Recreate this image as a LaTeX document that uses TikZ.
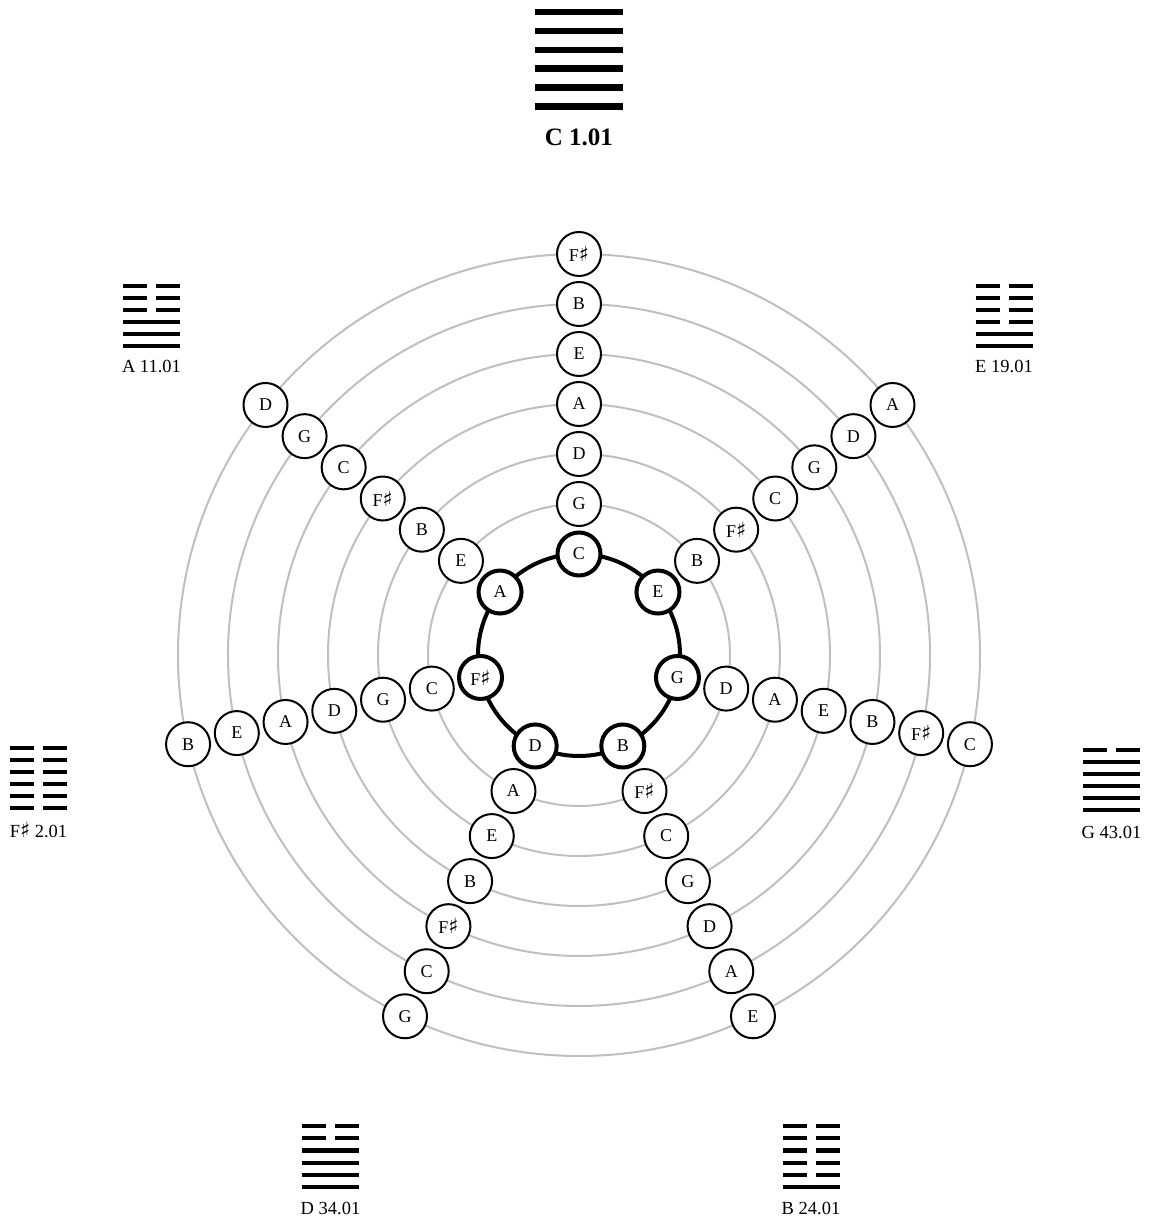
\documentclass[tikz,border=0pt]{standalone}
\usepackage{fontspec}
\setmainfont{Liberation Serif}
\newfontfamily\symfont{DejaVu Serif}
\newcommand\shp{{\symfont\fontsize{21}{21}\selectfont ♯}}
\begin{document}
\begin{tikzpicture}[x=1pt,y=1pt,
  note/.style={circle,draw=black,fill=white,line width=2pt,minimum size=44pt,inner sep=0pt,font=\fontsize{18}{20}\selectfont},
  keynote/.style={note,line width=4pt,minimum size=43pt},
  ring/.style={draw=black!25,line width=2pt},
  mainring/.style={draw=black,line width=4pt},
  smallhex/.style={line width=4.2pt},
  bighex/.style={line width=6.5pt},
  hexlab/.style={inner sep=0pt,font=\fontsize{18.5}{20}\selectfont},
  biglab/.style={inner sep=0pt,font=\fontsize{25}{28}\selectfont\bfseries},
]
\useasboundingbox (-579,655) rectangle (573,-565);

% hexagram helper: #1 x, #2 ytop, #3 half width, #4 spacing, #5 half gap, #6 pattern (top to bottom, 1 = solid), #7 style
\newcommand\hexagram[7]{%
  \foreach \s [count=\j from 0] in {#6} {
    \pgfmathsetmacro\yy{#2-#4*\j}
    \ifnum\s=1
      \draw[#7] (#1-#3,\yy) -- (#1+#3,\yy);
    \else
      \draw[#7] (#1-#3,\yy) -- (#1-#5,\yy) (#1+#5,\yy) -- (#1+#3,\yy);
    \fi
  }}

% rings
\foreach \r in {151,201,251,301,351,401} \draw[ring] (0,0) circle (\r);
\draw[mainring] (0,0) circle (101);

% spokes with key nodes
\foreach \i/\k/\lst in {
  0/C/{G,D,A,E,B,F\shp},
  1/E/{B,F\shp,C,G,D,A},
  2/G/{D,A,E,B,F\shp,C},
  3/B/{F\shp,C,G,D,A,E},
  4/D/{A,E,B,F\shp,C,G},
  5/F\shp/{C,G,D,A,E,B},
  6/A/{E,B,F\shp,C,G,D}} {
  \pgfmathsetmacro\ang{90-\i*360/7}
  \node[keynote] (k\i) at (\ang:101) {\k};
  \foreach \n [count=\j] in \lst {
    \node[note] (s\i-\j) at (\ang:{101+50*\j}) {\n};
  }
}

% hexagrams
\hexagram{0}{643}{44}{18.9}{5}{1,1,1,1,1,1}{bighex}
\node[biglab] (lC) at (0,518) {C 1.01};

\hexagram{-427.5}{369}{28.5}{12}{4.5}{0,0,0,1,1,1}{smallhex}
\node[hexlab] (lA) at (-427.5,289) {A 11.01};

\hexagram{425}{369}{28.5}{12}{4.5}{0,0,0,0,1,1}{smallhex}
\node[hexlab] (lE) at (425,289) {E 19.01};

\hexagram{532.5}{-95}{28.5}{12}{4.5}{0,1,1,1,1,1}{smallhex}
\node[hexlab] (lG) at (532.5,-177) {G 43.01};

\hexagram{-540.5}{-93}{28.5}{12}{4.5}{0,0,0,0,0,0}{smallhex}
\node[hexlab] (lF) at (-540.5,-175) {F\shp\ 2.01};

\hexagram{-248.5}{-471}{28.5}{12.2}{4.5}{0,0,1,1,1,1}{smallhex}
\node[hexlab] (lD) at (-248.5,-553) {D 34.01};

\hexagram{232}{-471}{28.5}{12.2}{4.5}{0,0,0,0,0,1}{smallhex}
\node[hexlab] (lB) at (232,-553) {B 24.01};
\end{tikzpicture}
\end{document}
